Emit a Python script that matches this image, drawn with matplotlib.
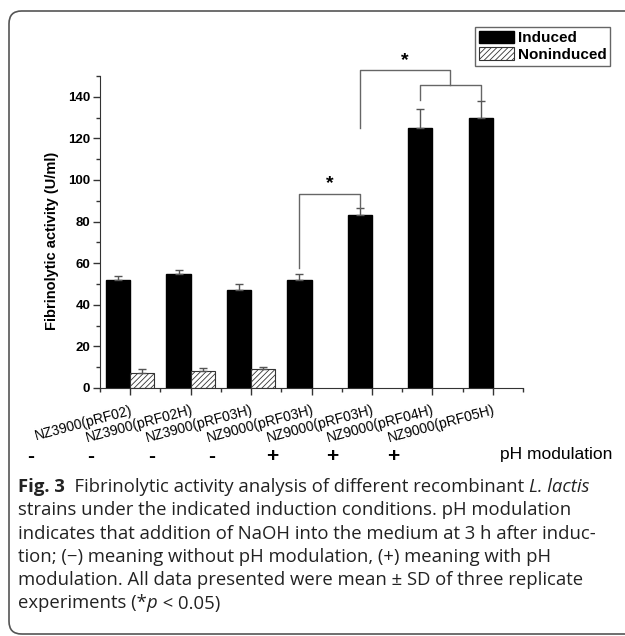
import matplotlib
matplotlib.use('Agg')
import matplotlib.pyplot as plt
import matplotlib.transforms as mtransforms
from matplotlib.patches import FancyBboxPatch
import numpy as np

plt.rcParams['font.family'] = ['Liberation Sans', 'DejaVu Sans']
plt.rcParams['hatch.linewidth'] = 0.6

strains = ['NZ3900(pRF02)', 'NZ3900(pRF02H)', 'NZ3900(pRF03H)', 'NZ9000(pRF03H)',
           'NZ9000(pRF03H)', 'NZ9000(pRF04H)', 'NZ9000(pRF05H)']
induced = [52, 55, 47, 52, 83, 125, 130]
induced_sd = [2, 1.5, 3, 3, 3.5, 9, 8]
noninduced = [7, 8, 9]
noninduced_sd = [2, 1.8, 1]
ph_signs = ['-', '-', '-', '-', '+', '+', '+']

# significance brackets: (x points, y points) in data units
brackets = [
    ([3.8, 3.8, 4.8, 4.8], [57.5, 93.5, 93.5, 86.7]),
    ([4.8, 4.8, 6.3, 6.3], [125, 152.7, 152.7, 145.5]),
    ([5.8, 5.8, 6.8, 6.8], [138.3, 145.5, 145.5, 138.3]),
]
stars = [(4.3, 93.5), (5.55, 152.7)]

# caption: each line is a list of (text, weight, style)
caption_lines = [
    [('Fig. 3', 'bold', 'normal'), ('  Fibrinolytic activity analysis of different recombinant ', 'normal', 'normal'),
     ('L. lactis', 'normal', 'italic')],
    [('strains under the indicated induction conditions. pH modulation', 'normal', 'normal')],
    [('indicates that addition of NaOH into the medium at 3 h after induc-', 'normal', 'normal')],
    [('tion; (\u2212) meaning without pH modulation, (+) meaning with pH', 'normal', 'normal')],
    [('modulation. All data presented were mean \u00b1 SD of three replicate', 'normal', 'normal')],
    [('experiments (*', 'normal', 'normal'), ('p', 'normal', 'italic'), (' < 0.05)', 'normal', 'normal')],
]

fig = plt.figure(figsize=(6.25, 6.36), dpi=100)
ax = fig.add_axes([0.16, 0.39, 0.6768, 0.4905])

x = np.arange(1, len(induced) + 1)
w = 0.4
ekw = dict(ecolor='#555555', elinewidth=1, capsize=3, capthick=1)

b1 = ax.bar(x - w / 2, induced, w, color='black', edgecolor='black',
            yerr=[np.zeros(len(induced)), induced_sd], error_kw=ekw, label='Induced')
xn = x[:len(noninduced)] + w / 2
b2 = ax.bar(xn, noninduced, w, color='white', edgecolor='#333333', hatch='//////',
            linewidth=0.8, yerr=[np.zeros(len(noninduced)), noninduced_sd],
            error_kw=ekw, label='Noninduced')

for bx, by in brackets:
    ax.plot(bx, by, color='#666666', lw=1, clip_on=False)
for sx, sy in stars:
    ax.text(sx, sy + 0.5, '*', ha='center', va='bottom', fontsize=14,
            fontweight='bold', clip_on=False)

ax.set_xlim(0.5, len(induced) + 0.5)
ax.set_ylim(0, 150)
ax.set_yticks(np.arange(0, 141, 20))
ax.set_yticks(np.arange(0, 151, 10), minor=True)
ax.set_xticks(x)
ax.set_xticks(np.arange(0.5, len(induced) + 1, 1), minor=True)
ax.set_xticklabels(strains, rotation=15, ha='right', rotation_mode='anchor', fontsize=10)
for t in ax.get_yticklabels():
    t.set_fontweight('bold')
    t.set_fontsize(9.5)
ax.tick_params(axis='both', which='major', direction='out', length=5, width=1, color='#333333')
ax.tick_params(axis='both', which='minor', direction='out', length=3, width=1, color='#333333')
ax.tick_params(axis='x', pad=6)
ax.tick_params(axis='y', pad=2)
for s in ['top', 'right']:
    ax.spines[s].set_visible(False)
for s in ['left', 'bottom']:
    ax.spines[s].set_color('#333333')
ax.set_ylabel('Fibrinolytic activity (U/ml)', fontsize=10.5, fontweight='bold')
ax.yaxis.set_label_coords(-0.097, 0.47)

leg = ax.legend(handles=[b1, b2], loc='upper left', bbox_to_anchor=(475 / 625, 1 - 27 / 636),
                bbox_transform=fig.transFigure, prop=dict(weight='bold', size=11),
                fancybox=False, edgecolor='#666666', framealpha=1,
                handlelength=2.3, handleheight=0.85, handletextpad=0.25,
                labelspacing=0.15, borderpad=0.25, borderaxespad=0)
leg.get_frame().set_linewidth(1)

# pH modulation row
trans = mtransforms.blended_transform_factory(ax.transData, fig.transFigure)
for i, sgn in enumerate(ph_signs):
    ax.text(x[i] - 1.65, 1 - 457 / 636, sgn, transform=trans, ha='center', va='center',
            fontsize=15, fontweight='bold')
fig.text(500 / 625, 1 - 455 / 636, 'pH modulation', ha='left', va='center', fontsize=12.5)

# caption, drawn piece by piece
renderer = fig.canvas.get_renderer()
for k, line in enumerate(caption_lines):
    xpos = 18
    for txt, wt, st in line:
        t = fig.text(xpos / 625, 1 - (487 + 23.3 * k) / 636, txt, ha='left', va='center',
                     fontsize=13.3, color='#222222', fontweight=wt, fontstyle=st,
                     family=['Open Sans', 'DejaVu Sans'])
        xpos += t.get_window_extent(renderer).width

# page frame
frame = FancyBboxPatch((9 / 625, 2 / 636), 1.2, 1 - 13 / 636,
                       boxstyle='round,pad=0,rounding_size=0.02',
                       transform=fig.transFigure, facecolor='none',
                       edgecolor='#555555', linewidth=1.2, clip_on=False)
fig.patches.append(frame)

fig.savefig('out.png', dpi=100)
